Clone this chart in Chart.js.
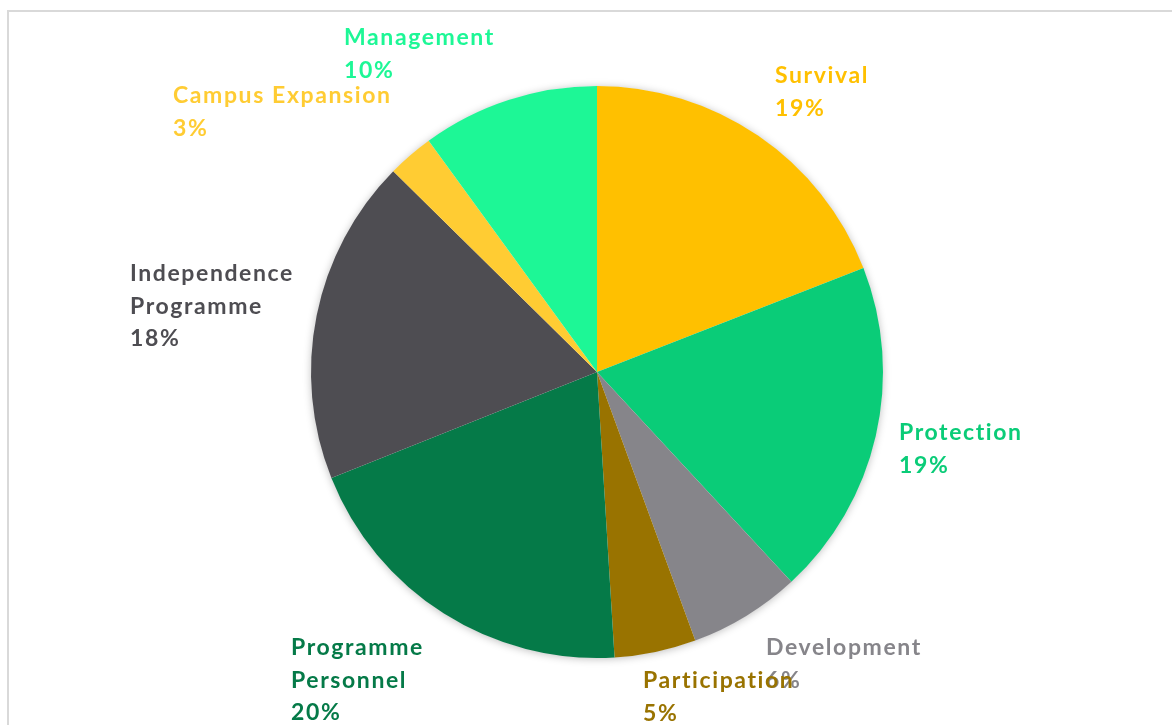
<!DOCTYPE html>
<html>
<head>
<meta charset="utf-8">
<script src="https://cdn.jsdelivr.net/npm/chart.js@4"></script>
<style>
  html, body { margin: 0; padding: 0; background: #fff; }
  #wrap { position: relative; width: 1172px; height: 725px; overflow: hidden; }
  #frame { position: absolute; left: 7px; top: 10px; width: 1200px; height: 800px; border: 2px solid #d9d9d9; box-sizing: border-box; }
  canvas { position: absolute; left: 0; top: 0; }
</style>
</head>
<body>
<div id="wrap">
  <div id="frame"></div>
  <canvas id="c" width="1172" height="725"></canvas>
</div>
<script>
const categories = ["Survival", "Protection", "Development", "Participation", "Programme Personnel", "Independence Programme", "Campus Expansion", "Management"];
const values = [19.05, 19.0, 6.3, 4.6, 19.9, 18.4, 2.6, 10.0];
const colors = ["#FFC000", "#0ACC78", "#86858A", "#997300", "#057A48", "#4E4D52", "#FFCC33", "#1DF796"];
const labelLines = [["Survival"], ["Protection"], ["Development"], ["Participation"], ["Programme", "Personnel"], ["Independence", "Programme"], ["Campus Expansion"], ["Management"]];
// label anchor offsets from the pie centre (left x of text, first baseline), in px
const labelOffsets = [[178, -289], [302, 68], [169, 283], [46, 316], [-306, 283], [-467, -91], [-424, -269], [-253, -327]];

const total = values.reduce((a, b) => a + b, 0);

const shadowPlugin = {
  id: 'pieShadow',
  beforeDatasetsDraw(chart) {
    const arc = chart.getDatasetMeta(0).data[0];
    if (!arc) return;
    const ctx = chart.ctx;
    ctx.save();
    ctx.shadowColor = 'rgba(0,0,0,0.28)';
    ctx.shadowBlur = 9;
    ctx.shadowOffsetY = 1;
    ctx.fillStyle = '#ffffff';
    ctx.beginPath();
    ctx.arc(arc.x, arc.y, arc.outerRadius - 0.5, 0, Math.PI * 2);
    ctx.fill();
    ctx.restore();
  }
};

const labelPlugin = {
  id: 'outLabels',
  afterDatasetsDraw(chart) {
    const meta = chart.getDatasetMeta(0);
    const ctx = chart.ctx;
    ctx.save();
    ctx.font = 'bold 23px Lato, "Open Sans", sans-serif';
    ctx.letterSpacing = '1.6px';
    ctx.textAlign = 'left';
    ctx.textBaseline = 'alphabetic';
    meta.data.forEach((arc, i) => {
      const x0 = arc.x + labelOffsets[i][0];
      const y0 = arc.y + labelOffsets[i][1];
      const pct = Math.round(values[i] / total * 100) + '%';
      const lines = labelLines[i].concat([pct]);
      ctx.fillStyle = colors[i];
      lines.forEach((t, k) => ctx.fillText(t, x0, y0 + k * 32.5));
    });
    ctx.restore();
  }
};

new Chart(document.getElementById('c'), {
  type: 'pie',
  data: {
    labels: categories,
    datasets: [{ data: values, backgroundColor: colors, borderWidth: 0, hoverOffset: 0 }]
  },
  options: {
    responsive: false,
    animation: false,
    layout: { padding: { top: 86, bottom: 67, left: 311, right: 289 } },
    plugins: { legend: { display: false }, tooltip: { enabled: false } }
  },
  plugins: [shadowPlugin, labelPlugin]
});
</script>
</body>
</html>
